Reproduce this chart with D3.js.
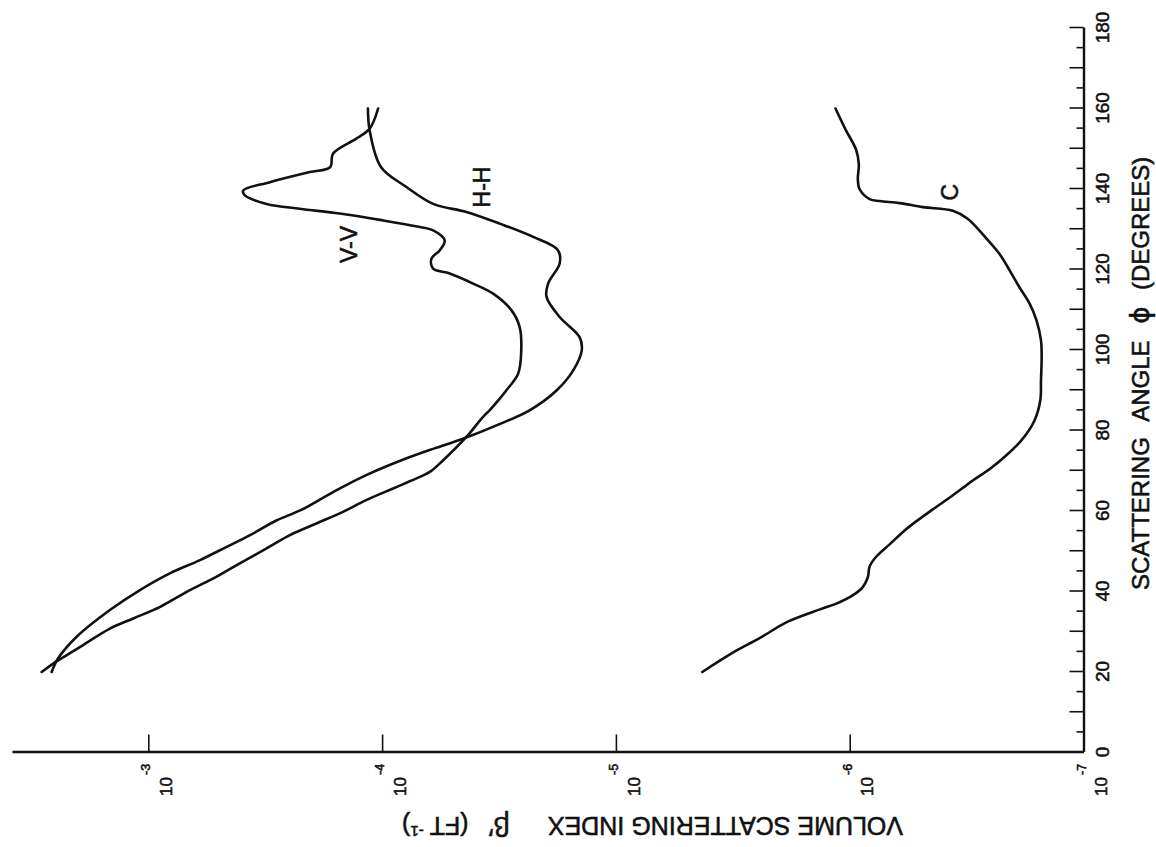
<!DOCTYPE html>
<html>
<head>
<meta charset="utf-8">
<script src="https://cdn.jsdelivr.net/npm/d3@7"></script>
<style>
  body { margin: 0; background: #fff; }
  svg { display: block; }
  text { font-family: "Liberation Sans", Arial, Helvetica, sans-serif; fill: #111; stroke: #111; stroke-width: 0.55; }
  .axis .domain { stroke: #111; stroke-width: 2.4; }
  .axis .tick line { stroke: #111; stroke-width: 1.6; }
  .axis .tick text { font-size: 19px; fill: #111; stroke: #111; stroke-width: 0.55; font-family: "Liberation Sans", Arial, sans-serif; }
  .curve { fill: none; stroke: #111; stroke-width: 2.6; stroke-linejoin: round; stroke-linecap: round; }
</style>
</head>
<body>
<svg id="chart" width="1156" height="847"></svg>
<script>
// Volume scattering index beta' (ft^-1) against scattering angle phi (degrees)

// V-V polarisation
const angleVV = [20, 22.1, 24.2, 26.7, 30.8, 33.3, 36.2, 39.9, 43.7, 47.0, 50.7, 54.0, 56.9, 59.8, 62.7,
  65.6, 68.1, 69.7, 72.6, 78.4, 83.4, 85.0, 87.9, 90.0, 94.1, 99.9, 105.7, 109.9, 114.0, 116.5, 119.0,
  120.2, 122.7, 124.8, 127.2, 129.7, 131.0, 132.2, 133.9, 135.1, 136.3, 138.4, 139.6, 141.7, 144.2,
  145.4, 148.8, 152.5, 155.0, 160];
const betaVV = [2.86e-3, 2.55e-3, 2.23e-3, 1.90e-3, 1.46e-3, 1.16e-3, 8.9e-4, 6.85e-4, 5.1e-4, 4.06e-4,
  3.12e-4, 2.48e-4, 1.91e-4, 1.47e-4, 1.17e-4, 8.97e-5, 7.13e-5, 6.25e-5, 5.48e-5, 4.36e-5, 3.70e-5,
  3.47e-5, 3.14e-5, 2.94e-5, 2.62e-5, 2.54e-5, 2.58e-5, 2.80e-5, 3.35e-5, 4.08e-5, 5.14e-5, 6.05e-5,
  6.15e-5, 5.66e-5, 5.40e-5, 6.05e-5, 7.60e-5, 9.91e-5, 1.52e-4, 2.25e-4, 3.12e-4, 3.86e-4, 3.93e-4,
  3.02e-4, 2.04e-4, 1.67e-4, 1.62e-4, 1.29e-4, 1.13e-4, 1.04e-4];

// H-H polarisation
const angleHH = [20, 23.4, 28.7, 35.4, 40.3, 44.5, 47.8, 51.1, 54.0, 57.7, 60.2, 64.7, 68.9, 72.6, 75.5,
  78.0, 81.7, 85.0, 90.0, 95.0, 99.9, 103.2, 108.2, 113.2, 116.5, 121.5, 124.8, 128.1, 131.4, 134.3,
  136.3, 140.5, 145.4, 154.5, 160];
const betaHH = [2.59e-3, 2.43e-3, 2.03e-3, 1.46e-3, 1.09e-3, 8.09e-4, 6.01e-4, 4.62e-4, 3.67e-4, 2.82e-4,
  2.23e-4, 1.62e-4, 1.17e-4, 8.26e-5, 6.01e-5, 4.48e-5, 3.11e-5, 2.34e-5, 1.79e-5, 1.52e-5, 1.40e-5,
  1.43e-5, 1.74e-5, 1.98e-5, 1.95e-5, 1.74e-5, 1.77e-5, 2.26e-5, 3.14e-5, 4.36e-5, 6.05e-5, 7.87e-5,
  1.01e-4, 1.13e-4, 1.15e-4];

// C curve
const angleC = [20, 24.8, 28.4, 32.5, 35.5, 37.0, 39.1, 41.1, 43.6, 46.2, 48.7, 51.7, 54.8, 56.8, 60.4,
  63.9, 67.3, 70.5, 73.6, 77.6, 82.5, 87.5, 92.5, 98.3, 102.4, 107.4, 111.5, 115.6, 119.8, 123.9, 127.8,
  132.6, 134.6, 135.5, 136.5, 137.0, 137.5, 140, 142.5, 146.1, 149.7, 154.7, 160];
const betaC = [4.27e-6, 3.16e-6, 2.43e-6, 1.84e-6, 1.35e-6, 1.14e-6, 9.68e-7, 8.79e-7, 8.36e-7, 8.22e-7,
  7.69e-7, 6.75e-7, 5.92e-7, 5.37e-7, 4.41e-7, 3.62e-7, 3.02e-7, 2.51e-7, 2.16e-7, 1.84e-7, 1.62e-7,
  1.53e-7, 1.52e-7, 1.51e-7, 1.52e-7, 1.59e-7, 1.70e-7, 1.88e-7, 2.07e-7, 2.29e-7, 2.61e-7,
  3.13e-7, 3.62e-7, 4.86e-7, 6.12e-7, 7.45e-7, 8.22e-7, 9.08e-7, 9.23e-7, 9.14e-7, 9.38e-7, 1.04e-6, 1.15e-6];

// axis ticks and labels
const angleLabels = [0, 20, 40, 60, 80, 100, 120, 140, 160, 180];
const angleMajorTicks = [0, 10, 20, 30, 40, 50, 60, 70, 80, 90, 100, 110, 120, 130, 140, 150, 160, 170, 180];
const angleMinorTicks = [5, 15, 25, 35, 45, 55, 65, 75, 85, 95, 105, 115, 125, 135, 145, 155, 165, 175];
const decadeExponents = [-3, -4, -5, -6, -7];

// curve labels
const curveLabels = [
  { text: "V-V", angle: 126.2, beta: 1.39e-4 },
  { text: "H-H", angle: 140.5, beta: 3.75e-5 },
  { text: "C",   angle: 139.2, beta: 3.75e-7 }
];

// The frame is laid out with angle along its width and beta along its height,
// then turned a quarter turn so the angle axis runs up the right-hand side.
const W = 724.5, H = 1071.5;
const x = d3.scaleLinear().domain([0, 180]).range([0, W]);
const y = d3.scaleLog().domain([1e-7, Math.pow(10, -2.417)]).range([H, 0]);

const svg = d3.select("#chart");
const g = svg.append("g").attr("transform", "translate(12,752.5) rotate(-90)");

// angle axis
const ax = g.append("g").attr("class", "axis").attr("transform", `translate(0,${H})`);
ax.call(d3.axisBottom(x).tickValues(angleMajorTicks).tickSizeInner(-14).tickSizeOuter(0).tickFormat(() => ""));
const axMinor = g.append("g").attr("class", "axis").attr("transform", `translate(0,${H})`);
axMinor.call(d3.axisBottom(x).tickValues(angleMinorTicks).tickSizeInner(-7).tickSizeOuter(0).tickFormat(() => ""));
axMinor.select(".domain").remove();
const axLab = g.append("g").attr("class", "axis").attr("transform", `translate(0,${H})`);
axLab.call(d3.axisBottom(x).tickValues(angleLabels).tickSize(0).tickPadding(12).tickFormat(d3.format("d")));
axLab.select(".domain").remove();

// beta axis
const ay = g.append("g").attr("class", "axis");
ay.call(d3.axisLeft(y).tickValues(decadeExponents.filter(e => e > -7).map(e => Math.pow(10, e)))
  .tickSizeInner(-18).tickSizeOuter(0).tickFormat(() => ""));

const decLab = g.append("g");
decadeExponents.forEach(e => {
  const v = y(Math.pow(10, e));
  decLab.append("text").attr("x", -24.5).attr("y", v + 23.7)
    .attr("text-anchor", "end").style("font-size", "17px").text("10");
  decLab.append("text").attr("x", -22.5).attr("y", v + 2)
    .attr("text-anchor", "start").style("font-size", "12.5px").text("-" + (-e));
});

// curves
const line = d3.line()
  .x(d => x(d[0]))
  .y(d => y(d[1]))
  .curve(d3.curveCatmullRom.alpha(0.5));

[[angleVV, betaVV], [angleHH, betaHH], [angleC, betaC]].forEach(([a, b]) => {
  g.append("path").attr("class", "curve").attr("d", line(d3.zip(a, b)));
});

g.selectAll(".clabel").data(curveLabels).join("text")
  .attr("class", "clabel")
  .attr("x", d => x(d.angle)).attr("y", d => y(d.beta))
  .attr("dy", "0.36em").attr("text-anchor", "middle")
  .style("font-size", "23px")
  .text(d => d.text);

// axis titles
const tx = g.append("text")
  .attr("transform", `translate(${x(40.35)},${H + 65.8})`)
  .attr("text-anchor", "start")
  .style("font-size", "24px").style("word-spacing", "10px");
tx.append("tspan").text("SCATTERING ANGLE ");
tx.append("tspan").style("font-family", "DejaVu Sans, sans-serif").style("font-size", "26px").text("ϕ");
tx.append("tspan").text(" (DEGREES)");

const ty = g.append("text")
  .attr("transform", `translate(-73.5,${H - 180.5}) rotate(-90)`)
  .attr("dy", "0.36em")
  .attr("text-anchor", "start")
  .style("font-size", "25px");
ty.append("tspan").text("VOLUME SCATTERING INDEX");
ty.append("tspan").attr("dx", 38).style("font-size", "28px").text("β′");
ty.append("tspan").attr("dx", 20).text("(FT");
ty.append("tspan").attr("dx", 6).attr("dy", -9).style("font-size", "15px").text("-1");
ty.append("tspan").attr("dy", 9).text(")");
</script>
</body>
</html>
